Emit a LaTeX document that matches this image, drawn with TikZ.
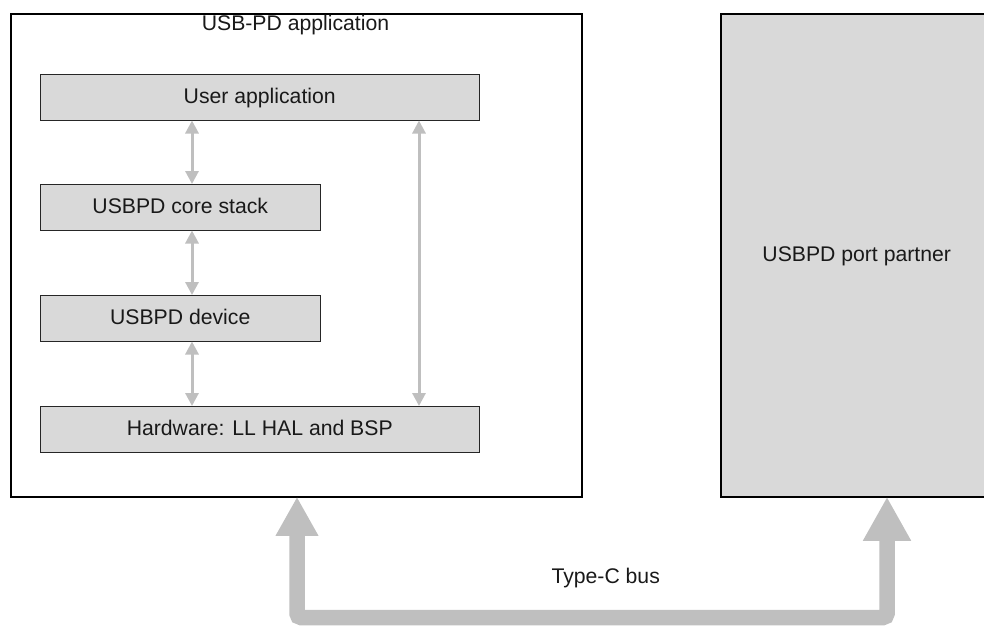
\documentclass[tikz,border=0pt]{standalone}
\usepackage{fontspec}
\setmainfont{Liberation Sans}
\usetikzlibrary{arrows.meta,positioning}
\definecolor{boxfill}{HTML}{D9D9D9}
\definecolor{arrowgrey}{HTML}{BFBFBF}
\tikzset{
  x=1pt,y=-1pt,
  every node/.style={font=\fontsize{21.2}{25}\selectfont,text=black!90,text height=13pt,text depth=0pt},
  frame/.style={draw=black,line width=2pt,minimum height=483.5pt,anchor=north west,inner sep=0pt},
  layerbox/.style={draw=black!85,line width=1.5pt,fill=boxfill,minimum height=46pt,anchor=north west,inner sep=0pt},
  wide/.style={layerbox,minimum width=439pt},
  narrow/.style={layerbox,minimum width=280pt},
  link/.style={draw=arrowgrey,line width=3pt,{Triangle[length=13pt,width=13pt]}-{Triangle[length=13pt,width=13pt]},shorten >=-0.5pt,shorten <=-0.5pt},
  bus/.style={draw=arrowgrey,line width=15.5pt,rounded corners=4pt,
     {Triangle[length=39pt,width=40pt]}-{Triangle[length=44pt,width=45pt]}}
}
\begin{document}
\begin{tikzpicture}
\useasboundingbox (0,0) rectangle (984,625);
\node[frame,minimum width=571.5pt] (app) at (9.6,12.8) {};
\node[frame,minimum width=275pt,fill=boxfill] (partner) at (720.3,12.8) {};
\node (apptitle) at (295.5,24.2) {USB-PD application};
\node (partnertitle) at (856.7,254.8) {USBPD port partner};
\node[wide] (user) at (39.5,73.5) {User application};
\node[narrow] (core) at (39.5,183.5) {USBPD core stack};
\node[narrow] (device) at (39.5,294.5) {USBPD device};
\node[wide] (hw) at (39.5,405.5) {Hardware: LL HAL and BSP};
\node (buslabel) at (605.7,576.5) {Type-C bus};
\coordinate (busbottom) at (592,617.5);
\draw[link] ([xshift=152.5pt]user.south west) -- ([xshift=152.5pt]core.north west);
\draw[link] ([xshift=152.5pt]core.south west) -- ([xshift=152.5pt]device.north west);
\draw[link] ([xshift=152.5pt]device.south west) -- ([xshift=152.5pt]hw.north west);
\draw[link] ([xshift=379.5pt]user.south west) -- ([xshift=379.5pt]hw.north west);
\draw[bus] ([xshift=287.4pt,yshift=1.5pt]app.south west) |- (busbottom) -| ([xshift=166.7pt,yshift=1.5pt]partner.south west);
\end{tikzpicture}
\end{document}
